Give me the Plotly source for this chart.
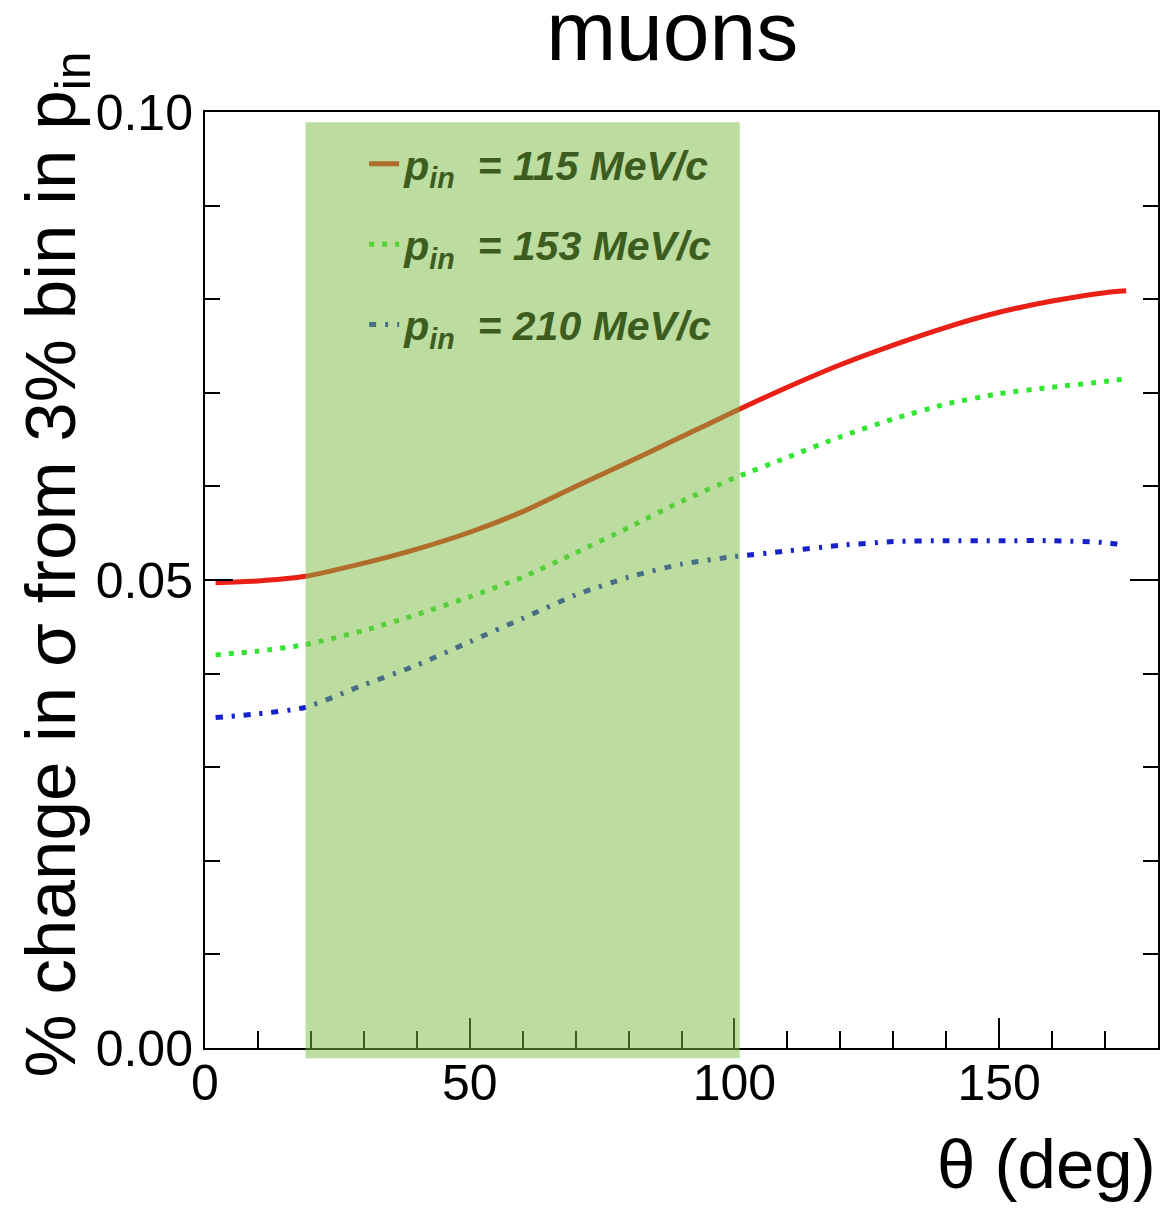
import plotly.graph_objects as go

# ---- data ----
theta = [2, 10, 19, 30, 40, 50, 60, 70, 80, 90, 100, 110, 120, 130, 140, 150, 160, 170, 174]
sig_115 = [0.0497, 0.0499, 0.0504, 0.0518, 0.0533, 0.0551, 0.0573, 0.0600, 0.0626, 0.0653,
           0.0680, 0.0706, 0.0730, 0.0751, 0.0770, 0.0786, 0.0798, 0.0807, 0.0809]
sig_153 = [0.0420, 0.0424, 0.0431, 0.0446, 0.0463, 0.0482, 0.0503, 0.0529, 0.0556, 0.0584,
           0.0609, 0.0631, 0.0653, 0.0672, 0.0688, 0.0699, 0.0706, 0.0712, 0.0715]
sig_210 = [0.0353, 0.0357, 0.0364, 0.0388, 0.0409, 0.0434, 0.0459, 0.0484, 0.0503, 0.0517,
           0.0525, 0.0531, 0.0537, 0.0541, 0.0542, 0.0542, 0.0542, 0.0540, 0.0537]
series_names = ["115", "153", "210"]
band_range = [19, 101]
x_ticks = [0, 50, 100, 150]
y_ticks = [0.0, 0.05, 0.10]

FONT = "Liberation Sans, Arial, Helvetica, sans-serif"
colors = ["rgb(232,32,22)", "rgb(50,230,50)", "rgb(22,34,200)"]
legend_colors = ["rgb(176,108,44)", "rgb(86,208,58)", "rgb(72,110,132)"]
dashes = ["solid", "5px,8px", "7px,9px,3px,9px"]
widths = [5, 5, 5]
ys = [sig_115, sig_153, sig_210]

fig = go.Figure()
for i in range(3):
    fig.add_trace(go.Scatter(x=theta, y=ys[i], mode="lines", showlegend=False,
                             line=dict(color=colors[i], width=widths[i], dash=dashes[i],
                                       shape="spline", smoothing=0.6)))
for i in range(3):
    name = ("<b><i>p</i></b><sub><b><i>in</i></b></sub><b><i>  = %s MeV/c</i></b>"
            % series_names[i])
    fig.add_trace(go.Scatter(x=[None], y=[None], mode="lines", name=name,
                             legendgroup="g%d" % i,
                             line=dict(color=legend_colors[i], width=widths[i], dash=dashes[i])))

fig.add_shape(type="rect", xref="x", yref="paper", x0=band_range[0], x1=band_range[1],
              y0=-0.011, y1=0.989, fillcolor="rgba(121,185,65,0.5)",
              line=dict(width=0), layer="above")

fig.update_layout(
    width=1165, height=1209,
    margin=dict(l=205, r=5, t=112, b=161),
    paper_bgcolor="white", plot_bgcolor="white",
    font=dict(family=FONT, color="black"),
    title=dict(text="muons", x=0.577, xanchor="center", y=0.999, yanchor="top",
               font=dict(size=84, family=FONT, color="black")),
    showlegend=True,
    legend=dict(x=0.167, y=0.980, xanchor="left", yanchor="top",
                bgcolor="rgba(0,0,0,0)", borderwidth=0, tracegroupgap=24,
                font=dict(size=41, family=FONT, color="rgb(60,92,32)")),
    xaxis=dict(range=[0, 180], tickvals=x_ticks, ticks="inside", ticklen=30, tickwidth=2,
               tickcolor="black", showline=True, linewidth=2, linecolor="black",
               mirror=True, showgrid=False, zeroline=False, ticklabelstandoff=-10,
               tickfont=dict(size=50, family=FONT, color="black"),
               minor=dict(dtick=10, ticks="inside", ticklen=17, tickwidth=2,
                          tickcolor="black", showgrid=False)),
    yaxis=dict(range=[0, 0.1], tickvals=y_ticks, tickformat=".2f", ticks="inside",
               ticklen=28, tickwidth=2, tickcolor="black", showline=True, linewidth=2,
               linecolor="black", mirror="ticks", showgrid=False, zeroline=False,
               tickfont=dict(size=50, family=FONT, color="black"),
               minor=dict(dtick=0.01, ticks="inside", ticklen=15, tickwidth=2,
                          tickcolor="black", showgrid=False)),
    annotations=[
        dict(text="θ (deg)", xref="paper", yref="paper", x=1.0, y=-0.124,
             xanchor="right", yanchor="middle", showarrow=False,
             font=dict(size=69, family=FONT, color="black")),
        dict(text="% change in σ from 3% bin in p<sub>in</sub>", xref="paper", yref="paper",
             x=-0.156, y=0.517, xanchor="center", yanchor="middle", textangle=-90,
             showarrow=False, font=dict(size=71, family=FONT, color="black")),
    ],
)

fig.write_html("out.html")
